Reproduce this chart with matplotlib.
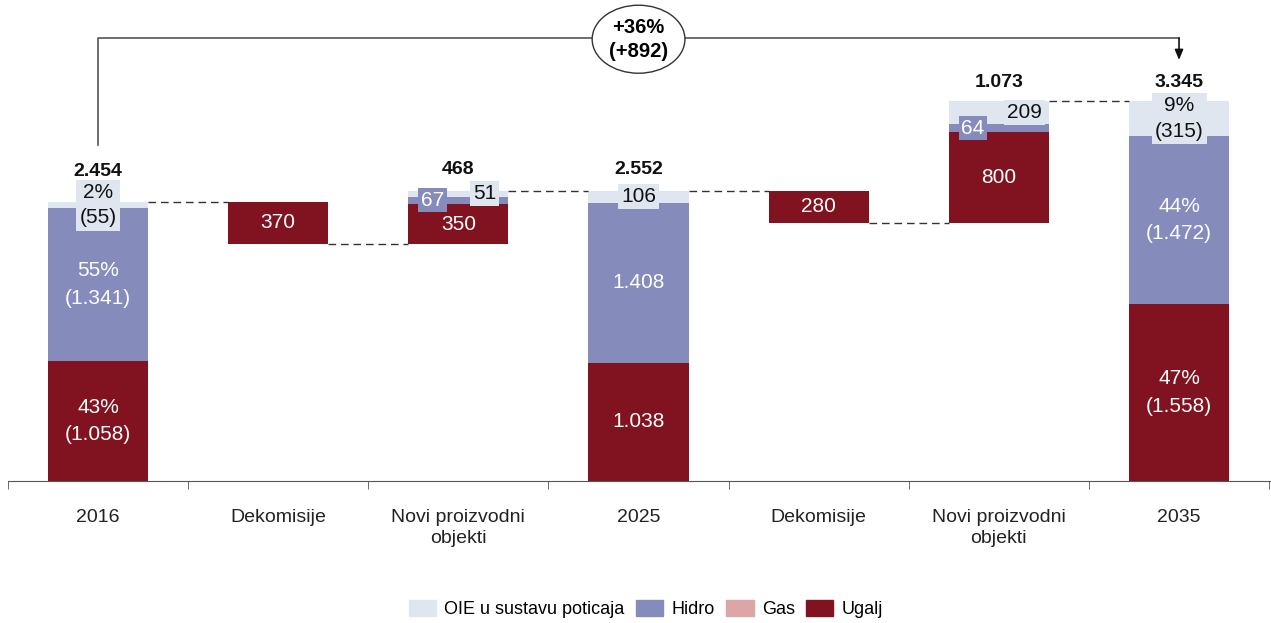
import matplotlib.pyplot as plt
import matplotlib.patches as mpatches
import numpy as np

plt.rcParams['font.family'] = ['Liberation Sans', 'DejaVu Sans']

# data
categories = ["2016", "Dekomisije", "Novi proizvodni\nobjekti", "2025",
              "Dekomisije", "Novi proizvodni\nobjekti", "2035"]
kinds = ["total", "down", "up", "total", "down", "up", "total"]
ugalj = [1058, 370, 350, 1038, 280, 800, 1558]
hidro = [1341, 0, 67, 1408, 0, 64, 1472]
oie = [55, 0, 51, 106, 0, 209, 315]
show_pct = [True, False, False, False, False, False, True]
change_label = "+36%\n(+892)"

c_oie = "#dfe6f0"
c_hidro = "#858cbb"
c_gas = "#dca6a6"
c_ugalj = "#80131f"


def fmt(v):
    return f"{v:,}".replace(",", ".")


fig = plt.figure(figsize=(12.71, 6.23), dpi=100)
ax = fig.add_axes([8 / 1271, 142 / 623, 1262 / 1271, 481 / 623])

x = np.arange(len(categories))
w = 0.556

# running bases for the waterfall
bases = []
level = 0
for k, u, h, o in zip(kinds, ugalj, hidro, oie):
    tot = u + h + o
    if k == "total":
        bases.append(0)
        level = tot
    elif k == "down":
        level = level - tot
        bases.append(level)
    else:
        bases.append(level)
        level = level + tot
bases = np.array(bases)
ug = np.array(ugalj)
hi = np.array(hidro)
oi = np.array(oie)
tops = bases + ug + hi + oi

ax.bar(x, ug, w, bottom=bases, color=c_ugalj)
ax.bar(x, hi, w, bottom=bases + ug, color=c_hidro)
ax.bar(x, oi, w, bottom=bases + ug + hi, color=c_oie)

# connectors
for i in range(len(x) - 1):
    if kinds[i] == "down":
        yv = bases[i]
    else:
        yv = tops[i]
    ax.plot([x[i] + w / 2, x[i + 1] - w / 2], [yv, yv], color="#333333",
            lw=1, dashes=(5.5, 3.5))

fs = 15
for i in range(len(x)):
    tot = ug[i] + hi[i] + oi[i]
    # ugalj
    txt = fmt(ug[i])
    if show_pct[i]:
        txt = f"{round(100 * ug[i] / tot)}%\n({fmt(ug[i])})"
    ax.text(x[i], bases[i] + ug[i] / 2, txt, ha="center", va="center",
            color="white", fontsize=fs, linespacing=1.55)
    if hi[i] > 0:
        txt = fmt(hi[i])
        if show_pct[i]:
            txt = f"{round(100 * hi[i] / tot)}%\n({fmt(hi[i])})"
        if kinds[i] == "up":
            ax.text(x[i] - 0.144, bases[i] + ug[i] + hi[i] / 2, txt,
                    ha="center", va="center", color="white", fontsize=fs,
                    bbox=dict(boxstyle="square,pad=0.12", fc=c_hidro, ec="none"))
        else:
            ax.text(x[i], bases[i] + ug[i] + hi[i] / 2, txt, ha="center",
                    va="center", color="white", fontsize=fs, linespacing=1.55)
    if oi[i] > 0:
        txt = fmt(oi[i])
        if show_pct[i]:
            txt = f"{round(100 * oi[i] / tot)}%\n({fmt(oi[i])})"
        dx = 0.144 if kinds[i] == "up" else 0
        ax.text(x[i] + dx, bases[i] + ug[i] + hi[i] + oi[i] / 2, txt,
                ha="center", va="center", color="#111111", fontsize=fs,
                linespacing=1.45,
                bbox=dict(boxstyle="square,pad=0.15", fc=c_oie, ec="none"))

# totals above bars
lift = {0: 19, 2: 12, 3: 12, 5: 10, 6: 10}
for i, pad in lift.items():
    tot = ug[i] + hi[i] + oi[i]
    ax.annotate(fmt(tot), (x[i], tops[i]), xytext=(0, pad),
                textcoords="offset points", ha="center", va="baseline",
                fontsize=14, fontweight="bold", color="#111111")

# growth bracket
y_top = 3896
ax.plot([x[0], x[0], x[-1]], [2955, y_top, y_top], color="#555555", lw=1.2,
        clip_on=False)
ax.annotate("", xy=(x[-1], 3703), xytext=(x[-1], y_top),
            arrowprops=dict(arrowstyle="-|>,head_width=0.25,head_length=0.6",
                            color="#111111", lw=1.2, shrinkA=0, shrinkB=0))
ell = mpatches.Ellipse((x[3], 3885), 0.515, 598, fc="white", ec="#333333",
                       lw=1, zorder=5, clip_on=False)
ax.add_patch(ell)
ax.text(x[3], 3885, change_label, ha="center", va="center", fontsize=14.5,
        fontweight="bold", zorder=6, linespacing=1.35)

# axes
ax.set_xlim(-0.5, len(x) - 0.5 + 0.005)
ax.set_ylim(0, 4230)
for s in ["top", "right", "left"]:
    ax.spines[s].set_visible(False)
ax.spines["bottom"].set_color("#555555")
ax.set_yticks([])
ax.set_xticks(x)
ax.set_xticklabels(categories, fontsize=14, color="#222222", linespacing=1.35)
ax.tick_params(axis="x", which="major", length=0, pad=20)
ax.set_xticks(np.arange(len(x) + 1) - 0.5, minor=True)
ax.tick_params(axis="x", which="minor", length=6, color="#555555")

handles = [mpatches.Patch(color=c_oie), mpatches.Patch(color=c_hidro),
           mpatches.Patch(color=c_gas), mpatches.Patch(color=c_ugalj)]
fig.legend(handles, ["OIE u sustavu poticaja", "Hidro", "Gas", "Ugalj"],
           loc="center", bbox_to_anchor=(646 / 1271, 1 - 609 / 623), ncol=4,
           frameon=False, fontsize=13, handlelength=1.5, handleheight=1.05,
           handletextpad=0.45, columnspacing=0.65)

fig.savefig("out.png", dpi=100)
